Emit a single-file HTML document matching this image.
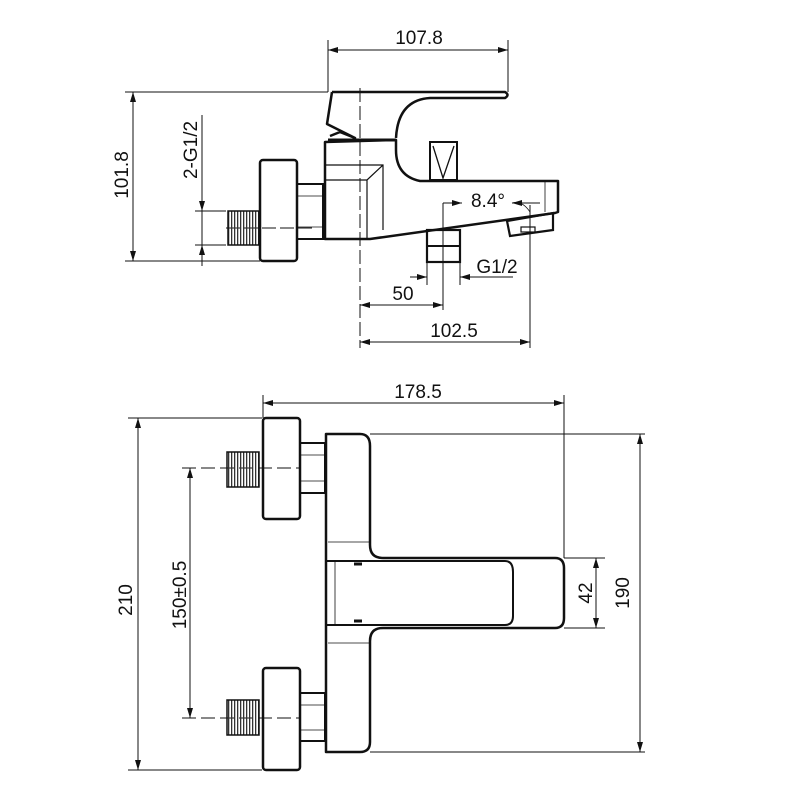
<!DOCTYPE html>
<html><head><meta charset="utf-8"><style>
html,body{margin:0;padding:0;background:#fff;}
svg{display:block;}
text{font-family:"Liberation Sans",sans-serif;font-size:19px;fill:#111;}
</style></head><body>
<svg width="800" height="800" viewBox="0 0 800 800" xmlns="http://www.w3.org/2000/svg">
<defs>
<marker id="a" viewBox="0 0 10 6" refX="10" refY="3" markerWidth="10" markerHeight="6" orient="auto-start-reverse" markerUnits="userSpaceOnUse">
<path d="M0,0 L10,3 L0,6 z" fill="#111"/></marker>
<pattern id="th" width="3" height="10" patternUnits="userSpaceOnUse"><rect x="0" y="0" width="1.3" height="10" fill="#333"/></pattern>
</defs>
<g fill="none" stroke="#111" stroke-width="1">
<!-- ========== TOP VIEW ========== -->
<line x1="328" y1="40" x2="328" y2="92"/>
<line x1="508" y1="40" x2="508" y2="92"/>
<line x1="328" y1="50" x2="508" y2="50" marker-start="url(#a)" marker-end="url(#a)"/>
<line x1="125" y1="92" x2="328" y2="92"/>
<line x1="125" y1="261" x2="260" y2="261"/>
<line x1="133" y1="92" x2="133" y2="261" marker-start="url(#a)" marker-end="url(#a)"/>
<line x1="202" y1="115" x2="202" y2="266"/>
<line x1="195" y1="211" x2="226" y2="211"/>
<line x1="195" y1="245" x2="226" y2="245"/>
<line x1="202" y1="190" x2="202" y2="211" marker-end="url(#a)"/>
<line x1="202" y1="266" x2="202" y2="245" marker-end="url(#a)"/>
<line x1="226" y1="228" x2="312" y2="228" stroke-dasharray="14,4"/>
<line x1="360" y1="88" x2="360" y2="348" stroke-dasharray="14,4"/>
<rect x="228" y="211" width="31" height="34" fill="url(#th)" stroke="#111" stroke-width="1.5"/>
<rect x="260" y="160" width="37" height="101" rx="3" stroke-width="2.5"/>
<rect x="297" y="184" width="26" height="55" stroke-width="2"/>
<line x1="297" y1="196" x2="323" y2="196" stroke-width="0.8"/>
<line x1="297" y1="227" x2="323" y2="227" stroke-width="0.8"/>
<path d="M325,142 L325,239 L370,239 L555,213 L558,212 L558,181 L420,181 Q396,176 396,150 L396,140 Z" stroke-width="2.5" stroke-linejoin="round"/>
<line x1="328" y1="140" x2="396" y2="140" stroke-width="3"/>
<path d="M325,165 L383,165 L383,230 M383,165 L367,180 L325,180 M367,180 L367,239" stroke-width="1.2"/>
<line x1="545" y1="181" x2="545" y2="212" stroke-width="0.8"/>
<path d="M332,92 L505,92 Q510,95 505,98 L430,98 Q398,100 396,138 M332,92 L327,124 L355,138 L340,132 L330,136" stroke-width="2.5" stroke-linejoin="round"/>
<rect x="430" y="142" width="27" height="38" stroke-width="2"/>
<path d="M433,146 L443,178 L454,146" stroke-width="1.3"/>
<path d="M507,221 L553,213 L553,230 L510,236 Z" stroke-width="2.2"/>
<rect x="521" y="227" width="14" height="5" stroke-width="1.2"/>
<rect x="427" y="230" width="33" height="32" stroke-width="2.2"/>
<line x1="427" y1="246" x2="460" y2="246" stroke-width="2"/>
<line x1="443" y1="203" x2="443" y2="310"/>
<line x1="427" y1="262" x2="427" y2="285"/>
<line x1="460" y1="262" x2="460" y2="285"/>
<line x1="530" y1="205" x2="530" y2="348"/>
<line x1="410" y1="277" x2="427" y2="277" marker-end="url(#a)"/>
<line x1="513" y1="277" x2="460" y2="277" marker-end="url(#a)"/>
<line x1="360" y1="305" x2="443" y2="305" marker-start="url(#a)" marker-end="url(#a)"/>
<line x1="360" y1="342" x2="530" y2="342" marker-start="url(#a)" marker-end="url(#a)"/>
<line x1="443" y1="203" x2="462" y2="203" marker-end="url(#a)"/>
<line x1="540" y1="203" x2="512" y2="203" marker-end="url(#a)"/>
<path d="M512,203 Q522,200 530,212" stroke-width="0.8"/>

<!-- ========== FRONT VIEW ========== -->
<line x1="263" y1="395" x2="263" y2="418"/>
<line x1="564" y1="395" x2="564" y2="558"/>
<line x1="263" y1="403" x2="564" y2="403" marker-start="url(#a)" marker-end="url(#a)"/>
<line x1="128" y1="418" x2="262" y2="418"/>
<line x1="128" y1="770" x2="262" y2="770"/>
<line x1="138" y1="418" x2="138" y2="770" marker-start="url(#a)" marker-end="url(#a)"/>
<line x1="182" y1="468" x2="300" y2="468" stroke-dasharray="14,5"/>
<line x1="182" y1="718" x2="300" y2="718" stroke-dasharray="14,5"/>
<line x1="190" y1="468" x2="190" y2="718" marker-start="url(#a)" marker-end="url(#a)"/>
<line x1="370" y1="434" x2="645" y2="434"/>
<line x1="370" y1="752" x2="645" y2="752"/>
<line x1="640" y1="434" x2="640" y2="752" marker-start="url(#a)" marker-end="url(#a)"/>
<line x1="564" y1="558" x2="605" y2="558"/>
<line x1="564" y1="628" x2="605" y2="628"/>
<line x1="596" y1="558" x2="596" y2="628" marker-start="url(#a)" marker-end="url(#a)"/>
<rect x="227" y="452" width="32" height="35" fill="url(#th)" stroke="#111" stroke-width="1.5"/>
<rect x="263" y="418" width="37" height="101" rx="3" stroke-width="2.5"/>
<rect x="300" y="443" width="25" height="50" stroke-width="2"/>
<line x1="300" y1="455" x2="325" y2="455" stroke-width="0.8"/>
<line x1="300" y1="481" x2="325" y2="481" stroke-width="0.8"/>
<rect x="227" y="700" width="32" height="35" fill="url(#th)" stroke="#111" stroke-width="1.5"/>
<rect x="263" y="668" width="37" height="102" rx="3" stroke-width="2.5"/>
<rect x="300" y="693" width="25" height="48" stroke-width="2"/>
<line x1="300" y1="705" x2="325" y2="705" stroke-width="0.8"/>
<line x1="300" y1="730" x2="325" y2="730" stroke-width="0.8"/>
<path d="M326,434 L360,434 Q370,434 370,446 L370,545 Q370,558 383,558 L555,558 Q564,558 564,568 L564,618 Q564,628 555,628 L383,628 Q370,628 370,641 L370,742 Q370,752 360,752 L326,752 Z" stroke-width="2.5" stroke-linejoin="round"/>
<line x1="328" y1="542" x2="370" y2="542" stroke-width="0.8"/>
<line x1="328" y1="643" x2="370" y2="643" stroke-width="0.8"/>
<path d="M326,561 L505,561 Q513,561 513,572 L513,616 Q513,625 505,625 L326,625" stroke-width="2"/>
<line x1="335" y1="561" x2="335" y2="625" stroke-width="0.8"/>
<line x1="354" y1="564" x2="362" y2="564" stroke-width="3"/>
<line x1="354" y1="621" x2="362" y2="621" stroke-width="3"/>
</g>
<text x="419" y="44" text-anchor="middle">107.8</text>
<text x="121" y="175" text-anchor="middle" transform="rotate(-90 121 175)" dy="7">101.8</text>
<text x="190" y="150" text-anchor="middle" transform="rotate(-90 190 150)" dy="7">2-G1/2</text>
<text x="488" y="207" text-anchor="middle">8.4°</text>
<text x="497" y="273" text-anchor="middle">G1/2</text>
<text x="403" y="300" text-anchor="middle">50</text>
<text x="454" y="337" text-anchor="middle">102.5</text>
<text x="418" y="398" text-anchor="middle">178.5</text>
<text x="125" y="600" text-anchor="middle" transform="rotate(-90 125 600)" dy="7">210</text>
<text x="179" y="595" text-anchor="middle" transform="rotate(-90 179 595)" dy="7">150±0.5</text>
<text x="585" y="593" text-anchor="middle" transform="rotate(-90 585 593)" dy="7">42</text>
<text x="622" y="593" text-anchor="middle" transform="rotate(-90 622 593)" dy="7">190</text>
</svg>
</body></html>
